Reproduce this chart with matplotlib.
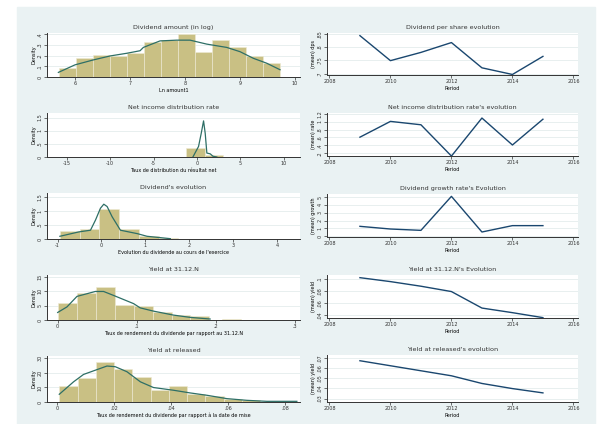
import matplotlib.pyplot as plt
from matplotlib.patches import Rectangle

# right column: yearly series
years = [2009, 2010, 2011, 2012, 2013, 2014, 2015]
dps = [0.843, 0.749, 0.780, 0.817, 0.722, 0.697, 0.765]
netinc_rate = [0.607, 1.005, 0.92, 0.13, 1.09, 0.41, 1.06]
div_growth = [1.27, 0.93, 0.76, 5.08, 0.55, 1.36, 1.36]
yield_3112 = [0.1021, 0.0956, 0.0880, 0.0792, 0.0520, 0.0444, 0.0362]
yield_rel = [0.0670, 0.0621, 0.0572, 0.0523, 0.0448, 0.0398, 0.0356]

# left column: histograms (bar left edges, width, density) + kde curves
amt_left = [5.70, 6.01, 6.32, 6.63, 6.94, 7.25, 7.56, 7.87, 8.18, 8.49, 8.80, 9.11, 9.42]
amt_width = 0.31
amt_dens = [0.083, 0.175, 0.206, 0.197, 0.222, 0.329, 0.351, 0.4, 0.237, 0.351, 0.277, 0.197, 0.135]
amt_kx = [5.697, 6.0, 6.333, 6.636, 6.939, 7.182, 7.242, 7.545, 7.848, 8.091, 8.394, 8.758, 9.0, 9.242, 9.485, 9.727]
amt_ky = [0.043, 0.114, 0.160, 0.197, 0.222, 0.246, 0.277, 0.338, 0.345, 0.345, 0.308, 0.277, 0.237, 0.175, 0.129, 0.068]

nir_left = [-1.2, 0.9]
nir_width = 2.1
nir_dens = [0.34, 0.06]
nir_kx = [-0.46, 0.19, 0.5, 0.77, 0.96, 1.15, 1.54, 1.85, 2.3]
nir_ky = [0.0, 0.4, 0.9, 1.375, 0.9, 0.15, 0.12, 0.03, 0.0]

dev_left = [-0.95, -0.50, -0.05, 0.40, 0.85, 1.30]
dev_width = 0.45
dev_dens = [0.28, 0.354, 1.085, 0.354, 0.098, 0.05]
dev_kx = [-0.947, -0.515, -0.25, -0.136, -0.023, 0.053, 0.129, 0.242, 0.432, 0.811, 1.038, 1.341, 1.568]
dev_ky = [0.098, 0.256, 0.317, 0.683, 1.11, 1.256, 1.171, 0.805, 0.317, 0.195, 0.098, 0.049, 0.012]

y31_left = [0, 0.024, 0.048, 0.072, 0.096, 0.12, 0.144, 0.168, 0.208]
y31_width = 0.024
y31_dens = [5.9, 9.3, 11.6, 5.1, 4.8, 2.8, 1.7, 1.4, 0.5]
y31_kx = [0, 0.0118, 0.0244, 0.0476, 0.0581, 0.0707, 0.096, 0.1044, 0.1213, 0.1465, 0.1676, 0.1928]
y31_ky = [2.61, 4.55, 8.18, 9.89, 9.89, 8.52, 5.68, 4.2, 3.07, 1.7, 0.91, 0.34]

yr_left = [0.0008, 0.0072, 0.0136, 0.0200, 0.0264, 0.0328, 0.0392, 0.0456, 0.0520, 0.0584, 0.0648]
yr_width = 0.0064
yr_dens = [10.85, 16.2, 27.7, 22.6, 16.9, 8.5, 10.85, 5.8, 3.9, 2.3, 1.15]
yr_kx = [0.0008, 0.0058, 0.0093, 0.0175, 0.0204, 0.0245, 0.0292, 0.0338, 0.0408, 0.0466, 0.0525, 0.0595, 0.0665, 0.0735, 0.084]
yr_ky = [5.31, 13.86, 18.94, 24.71, 24.25, 20.79, 13.86, 9.93, 8.08, 6.24, 4.62, 2.31, 1.15, 0.46, 0.46]

W, H = 604, 424
BG = "#eaf2f3"
BAR = "#c9c084"
KDE = "#2e6f66"
LINE = "#1a476f"


def box(l, t, r, b):
    return [l / W, 1 - b / H, (r - l) / W, (b - t) / H]


def fmt(v):
    s = ("%g" % v)
    if s.startswith("0."):
        s = s[1:]
    elif s.startswith("-0."):
        s = "-" + s[2:]
    return s


def style(ax, yticks, ylim, xticks, xlim, title, xlabel, ylabel):
    ax.set_facecolor("white")
    for s in ["top", "right"]:
        ax.spines[s].set_visible(False)
    for s in ["left", "bottom"]:
        ax.spines[s].set_color("#333333")
        ax.spines[s].set_linewidth(0.7)
    ax.set_yticks(yticks)
    ax.set_yticklabels([fmt(v) for v in yticks], rotation=90, va="center", fontsize=3.5)
    ax.set_xticks(xticks)
    ax.set_xticklabels([fmt(v) for v in xticks], fontsize=3.5)
    ax.set_ylim(ylim)
    ax.set_xlim(xlim)
    ax.tick_params(length=2, width=0.5, pad=1, colors="#333333")
    ax.grid(axis="y", color="#e4ecec", lw=0.6)
    ax.set_axisbelow(True)
    ax.set_title(title, fontsize=4.6, color="#333333", pad=3)
    ax.set_xlabel(xlabel, fontsize=3.5, labelpad=1)
    ax.set_ylabel(ylabel, fontsize=3.5, labelpad=1)


fig = plt.figure(figsize=(6.04, 4.24), dpi=100)
fig.patches.append(Rectangle((17 / W, 0), (595 - 17) / W, (H - 7) / H,
                             transform=fig.transFigure, color=BG, zorder=-1))

left_boxes = [(33, 77), (113, 157), (193, 239), (275, 320), (356, 402)]
right_boxes = [(33, 75), (113, 156), (194, 237), (275, 318), (355, 402)]

hists = [
    (amt_left, amt_width, amt_dens, amt_kx, amt_ky, [0, .1, .2, .3, .4], (0, 0.412),
     [6, 7, 8, 9, 10], (5.49, 10.09), "Dividend amount (in log)", "Ln amount1"),
    (nir_left, nir_width, nir_dens, nir_kx, nir_ky, [0, .5, 1, 1.5], (0, 1.675),
     [-15, -10, -5, 0, 5, 10], (-17.3, 11.9), "Net income distribution rate",
     "Taux de distribution du résultat net"),
    (dev_left, dev_width, dev_dens, dev_kx, dev_ky, [0, .5, 1, 1.5], (0, 1.66),
     [-1, 0, 1, 2, 3, 4], (-1.24, 4.52), "Dividend's evolution",
     "Evolution du dividende au cours de l'exercice"),
    (y31_left, y31_width, y31_dens, y31_kx, y31_ky, [0, 5, 10, 15], (0, 15.6),
     [0, .1, .2, .3], (-0.0135, 0.3065), "Yield at 31.12.N",
     "Taux de rendement du dividende par rapport au 31.12.N"),
    (yr_left, yr_width, yr_dens, yr_kx, yr_ky, [0, 10, 20, 30], (0, 31.6),
     [0, .02, .04, .06, .08], (-0.0035, 0.0851), "Yield at released",
     "Taux de rendement du dividende par rapport à la date de mise"),
]

for (t, b), h in zip(left_boxes, hists):
    lefts, width, dens, kx, ky, yt, yl, xt, xl, title, xlabel = h
    ax = fig.add_axes(box(47, t, 300, b))
    ax.bar(lefts, dens, width=width, align="edge", color=BAR, edgecolor="#eeebd6", lw=0.4)
    ax.plot(kx, ky, color=KDE, lw=0.9)
    style(ax, yt, yl, xt, xl, title, xlabel, "Density")

lines = [
    (dps, [.7, .75, .8, .85], (0.695, 0.853), "Dividend per share evolution", "(mean) dps"),
    (netinc_rate, [.2, .4, .6, .8, 1, 1.2], (0.132, 1.217),
     "Net income distribution rate's evolution", "(mean) rate"),
    (div_growth, [0, 1, 2, 3, 4, 5], (-0.085, 5.38), "Dividend growth rate's Evolution", "(mean) growth"),
    (yield_3112, [.04, .06, .08, .1], (0.0356, 0.1065), "Yield at 31.12.N's Evolution", "(mean) yield"),
    (yield_rel, [.03, .04, .05, .06, .07], (0.0267, 0.0726), "Yield at released's evolution", "(mean) yield"),
]

for (t, b), ln in zip(right_boxes, lines):
    vals, yt, yl, title, ylabel = ln
    ax = fig.add_axes(box(327, t, 578, b))
    ax.plot(years, vals, color=LINE, lw=1.0)
    style(ax, yt, yl, [2008, 2010, 2012, 2014, 2016], (2007.92, 2016.15), title, "Period", ylabel)

fig.savefig("out.png", dpi=100)
